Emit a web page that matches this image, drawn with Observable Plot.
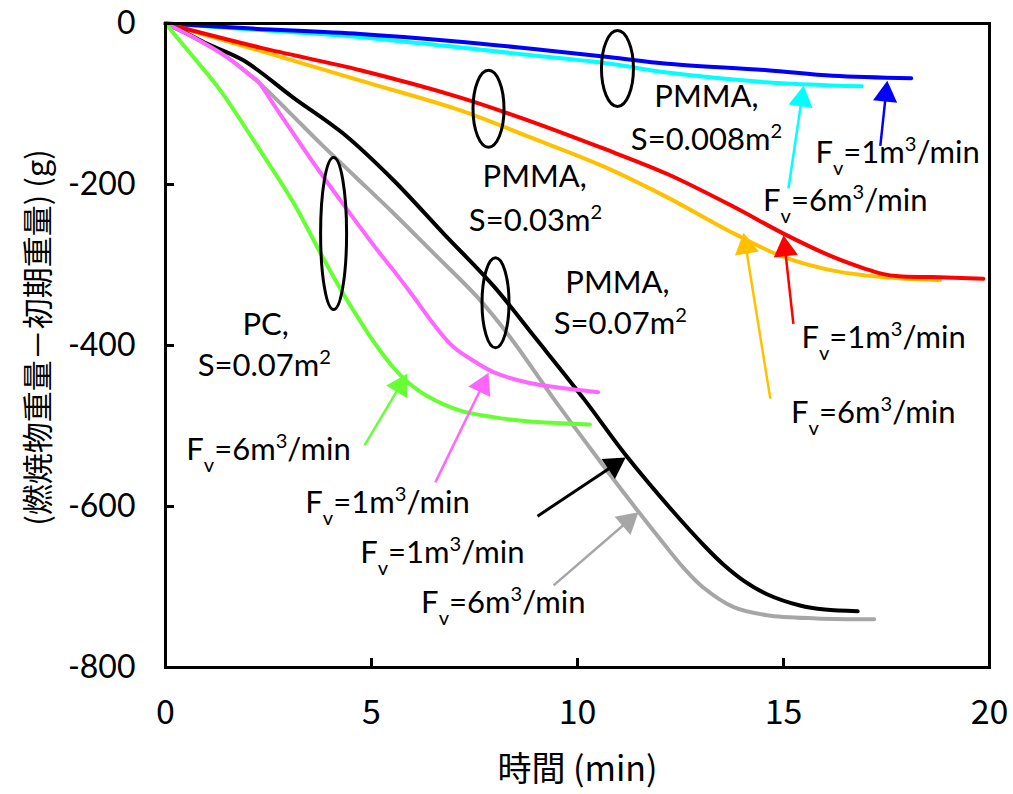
<!DOCTYPE html>
<html><head><meta charset="utf-8">
<script src="https://cdn.jsdelivr.net/npm/d3@7"></script>
<script src="https://cdn.jsdelivr.net/npm/@observablehq/plot@0.6"></script>
<style>body{margin:0;background:#fff}</style>
</head><body><div id="chart"></div>
<script>
// ---------- data ----------
const xTicks = [0, 5, 10, 15, 20];
const yTicks = [0, -200, -400, -600, -800];
const xLabel = "時間 (min)";
const yLabel = "(燃焼物重量－初期重量) (g)";

// PMMA S=0.008m2
const pmma008F6T = [0, 2, 4.73, 7, 9, 10.8, 12.18, 14.6, 16.2, 16.9];
const pmma008F6G = [0, -7, -17, -29, -40, -50, -61, -73, -77, -78];
const pmma008F1T = [0, 2, 4.73, 7, 9, 10.8, 12.18, 14.6, 16.2, 18.1];
const pmma008F1G = [0, -6, -13, -22, -32, -42, -50, -58, -65, -68];
// PMMA S=0.03m2
const pmma03F6T = [0, 2.3, 4.73, 7.16, 8.78, 10.56, 12.18, 13.8, 15.0, 16.2, 17.4, 18.8];
const pmma03F6G = [0, -34, -71, -108, -140, -176, -216, -261, -290, -307, -315, -319];
const pmma03F1T = [0, 2.3, 4.73, 7.16, 8.78, 10.56, 12.18, 13.8, 15.0, 16.2, 17.0, 17.4, 17.8, 18.6, 19.85];
const pmma03F1G = [0, -30, -58, -92, -120, -154, -187, -228, -261, -290, -305, -311, -314, -315, -317];
// PMMA S=0.07m2
const pmma07F6T = [0, 0.68, 1.5, 2.3, 3.0, 3.76, 4.6, 5.54, 6.5, 7.57, 8.37, 9.42, 10.3, 11.2, 12.09, 12.57, 13.06, 13.79, 14.6, 15.8, 17.2];
const pmma07F6G = [0, -17, -42, -75, -110, -149, -190, -236, -285, -340, -390, -466, -527, -588, -646, -676, -701, -725, -735, -739, -740];
const pmma07F1T = [0, 0.5, 1.0, 1.9, 3.1, 4.32, 5.54, 6.75, 7.96, 9.0, 10.15, 11.17, 12.3, 13.1, 13.54, 14.03, 14.6, 15.4, 16.0, 16.8];
const pmma07F1G = [0, -12, -25, -46, -92, -137, -195, -261, -326, -392, -466, -536, -605, -650, -672, -692, -709, -723, -728, -730];
// PC S=0.07m2
const pcF1T = [0, 0.6, 1.5, 1.9, 2.1, 2.23, 2.72, 3.52, 4.32, 5.15, 5.54, 6.03, 6.5, 6.99, 7.57, 7.96, 8.78, 10.5];
const pcF1G = [0, -15, -42, -58, -66, -71, -108, -168, -225, -282, -307, -340, -373, -402, -422, -433, -446, -458];
const pcF6T = [0, 0.68, 1.33, 2.3, 3.1, 3.76, 4.25, 4.73, 5.05, 5.54, 5.87, 6.36, 7.16, 7.96, 8.78, 10.3];
const pcF6G = [0, -42, -83, -158, -222, -285, -330, -370, -395, -428, -445, -463, -481, -489, -494, -498];

// annotation texts (data coordinates)
const annX = [13.13, 13.13, 17.77, 16.5, 8.96, 8.98, 10.97, 11.04, 2.43, 2.40, 2.5, 5.39, 6.72, 8.2, 17.43, 17.18];
const annY = [-92, -145, -161, -220, -191, -245, -322, -373, -375, -425, -530, -596, -658, -720, -391, -484];
const annText = ["PMMA,", "S=0.008m^{2}", "F_{v}=1m^{3}/min", "F_{v}=6m^{3}/min",
  "PMMA,", "S=0.03m^{2}", "PMMA,", "S=0.07m^{2}", "PC,", "S=0.07m^{2}",
  "F_{v}=6m^{3}/min", "F_{v}=1m^{3}/min", "F_{v}=1m^{3}/min", "F_{v}=6m^{3}/min",
  "F_{v}=1m^{3}/min", "F_{v}=6m^{3}/min"];

// arrows: start -> tip (data coordinates)
const arrX1 = [15.12, 17.35, 4.83, 6.55, 9.03, 9.42, 14.68, 15.24];
const arrY1 = [-205, -152, -524, -570, -612, -698, -466, -373];
const arrX2 = [15.49, 17.52, 5.87, 7.84, 11.17, 11.48, 14.03, 15.0];
const arrY2 = [-77, -71, -435, -434, -539, -607, -260, -263];

// group ellipses (centre, data coordinates)
const ellX = [10.97, 7.84, 4.08, 8.01];
const ellY = [-56, -106, -261, -347];

// ---------- styles ----------
const W = 1013, H = 794, mL = 165, mR = 24, mT = 23, mB = 127;
const kx = (W - mL - mR) / 20, ky = (H - mT - mB) / 800;
const seriesStyle = [
  {t: pmma008F6T, g: pmma008F6G, c: "#00FFFF"},
  {t: pmma008F1T, g: pmma008F1G, c: "#0000FF"},
  {t: pmma03F6T, g: pmma03F6G, c: "#FFC000"},
  {t: pmma03F1T, g: pmma03F1G, c: "#FF0000"},
  {t: pmma07F6T, g: pmma07F6G, c: "#A6A6A6"},
  {t: pmma07F1T, g: pmma07F1G, c: "#000000"},
  {t: pcF1T, g: pcF1G, c: "#FF66FF"},
  {t: pcF6T, g: pcF6G, c: "#66FF33"}
];
const arrowColors = ["#00FFFF", "#0000FF", "#66FF33", "#FF66FF", "#000000", "#A6A6A6", "#FFC000", "#FF0000"];
const ellSize = [[16, 38], [15.5, 38.5], [13, 76], [13.5, 45]];
const latin = "Lato, 'Open Sans', sans-serif";
const cjk = "'Noto Sans CJK JP', sans-serif";

function ellipseSymbol(rx, ry) {
  const k = 0.5523;
  return {draw(ctx) {
    ctx.moveTo(rx, 0);
    ctx.bezierCurveTo(rx, ry * k, rx * k, ry, 0, ry);
    ctx.bezierCurveTo(-rx * k, ry, -rx, ry * k, -rx, 0);
    ctx.bezierCurveTo(-rx, -ry * k, -rx * k, -ry, 0, -ry);
    ctx.bezierCurveTo(rx * k, -ry, rx, -ry * k, rx, 0);
    ctx.closePath();
  }};
}

const marks = [];
for (const s of seriesStyle) {
  marks.push(Plot.line(s.t, {x: s.t, y: s.g, stroke: s.c, strokeWidth: 4, curve: "catmull-rom"}));
}
ellX.forEach((x, i) => {
  marks.push(Plot.dot([0], {x: [ellX[i]], y: [ellY[i]], symbol: ellipseSymbol(...ellSize[i]), fill: "none", stroke: "black", strokeWidth: 3}));
});
const headR = 9, tipDist = 1.555 * headR;
arrX1.forEach((_, i) => {
  const dxp = (arrX2[i] - arrX1[i]) * kx, dyp = -(arrY2[i] - arrY1[i]) * ky;
  const len = Math.hypot(dxp, dyp), ux = dxp / len, uy = dyp / len;
  const cx = arrX2[i] - ux * tipDist / kx, cy = arrY2[i] + uy * tipDist / ky;
  const ang = Math.atan2(dxp, -dyp) * 180 / Math.PI;
  marks.push(Plot.link([0], {x1: [arrX1[i]], y1: [arrY1[i]], x2: [cx], y2: [cy], stroke: arrowColors[i], strokeWidth: i === 4 ? 3 : 2.5}));
  marks.push(Plot.dot([0], {x: [cx], y: [cy], symbol: "triangle", r: headR, fill: arrowColors[i], stroke: "none", rotate: ang}));
});
marks.push(Plot.text(annText, {x: annX, y: annY, text: annText, fontSize: 31, fontFamily: latin, fill: "black", textAnchor: "middle", lineAnchor: "middle"}));
marks.push(Plot.frame({stroke: "black", strokeWidth: 3}));
marks.push(Plot.ruleX(xTicks.slice(1, -1), {x: d => d, y1: -800, y2: -800, insetTop: -9, stroke: "black", strokeWidth: 3}));
marks.push(Plot.ruleY(yTicks.slice(1, -1), {y: d => d, x1: 0, x2: 0, insetRight: -9, stroke: "black", strokeWidth: 3}));
marks.push(Plot.axisX(xTicks, {tickSize: 0, tickPadding: 32, tickFormat: d => String(d), fontSize: 34, fontFamily: cjk, label: null}));
marks.push(Plot.axisY(yTicks, {tickSize: 0, tickPadding: 30, tickFormat: d => String(d), fontSize: 32, fontFamily: latin, label: null}));
marks.push(Plot.text([xLabel], {frameAnchor: "bottom", dy: 103, fontSize: 34, fontFamily: cjk, lineAnchor: "middle"}));
marks.push(Plot.text([yLabel], {frameAnchor: "left", rotate: -90, dx: -126, dy: -8, fontSize: 31, fontFamily: cjk, textAnchor: "middle", lineAnchor: "middle"}));

const chart = Plot.plot({
  width: W, height: H,
  marginLeft: mL, marginRight: mR, marginTop: mT, marginBottom: mB,
  x: {domain: [0, 20]},
  y: {domain: [-800, 0]},
  style: {background: "white", color: "black", fontFamily: latin, overflow: "visible"},
  marks
});

chart.querySelectorAll("text").forEach(el => {
  if (el.children.length) return;
  const s = el.textContent;
  if (!/[_^]\{/.test(s)) return;
  el.textContent = "";
  const re = /([_^])\{([^}]*)\}|([^_^]+)/g;
  let m;
  while ((m = re.exec(s))) {
    const ts = document.createElementNS("http://www.w3.org/2000/svg", "tspan");
    if (m[1]) {
      ts.textContent = m[2];
      ts.setAttribute("font-size", "65%");
      ts.setAttribute("baseline-shift", m[1] === "^" ? "super" : "sub");
    } else ts.textContent = m[3];
    el.appendChild(ts);
  }
});
document.getElementById("chart").appendChild(chart);
</script>
</body></html>
